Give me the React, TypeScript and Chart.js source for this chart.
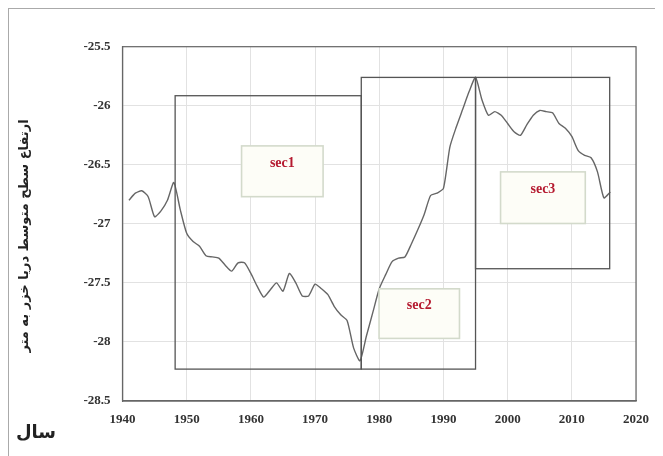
import React, { useEffect, useRef } from "react";
import { Chart, registerables } from "chart.js";

Chart.register(...registerables);

const years: number[] = [];
for (let y = 1941; y <= 2016; y++) years.push(y);

const levels: number[] = [
  -26.80, -26.74, -26.72, -26.77, -26.94, -26.89, -26.80, -26.65, -26.88, -27.08,
  -27.15, -27.19, -27.27, -27.28, -27.29, -27.35, -27.40, -27.33, -27.33, -27.42,
  -27.53, -27.62, -27.56, -27.50, -27.57, -27.42, -27.50, -27.61, -27.61, -27.51,
  -27.55, -27.60, -27.70, -27.77, -27.82, -28.05, -28.16, -27.95, -27.75, -27.55,
  -27.43, -27.32, -27.29, -27.28, -27.17, -27.05, -26.92, -26.76, -26.74, -26.70,
  -26.35, -26.18, -26.03, -25.88, -25.76, -25.95, -26.08, -26.05, -26.08, -26.15,
  -26.22, -26.25, -26.16, -26.08, -26.04, -26.05, -26.06, -26.15, -26.19, -26.26,
  -26.38, -26.42, -26.44, -26.56, -26.78, -26.73,
];

const xTicks: number[] = [1940, 1950, 1960, 1970, 1980, 1990, 2000, 2010, 2020];
const yTicks: number[] = [-25.5, -26, -26.5, -27, -27.5, -28, -28.5];

// section rectangles
const sectionNames: string[] = ["sec1", "sec2", "sec3"];
const sectionYearStart: number[] = [1948.2, 1977.2, 1995.0];
const sectionYearEnd: number[] = [1977.2, 1995.0, 2015.9];
const sectionTop: number[] = [-25.915, -25.76, -25.76];
const sectionBottom: number[] = [-28.23, -28.23, -27.38];

// label boxes
const labelYearStart: number[] = [1958.55, 1979.97, 1998.9];
const labelYearEnd: number[] = [1971.25, 1992.5, 2012.1];
const labelTop: number[] = [-26.34, -27.55, -26.56];
const labelBottom: number[] = [-26.77, -27.97, -26.997];

const yTitle = "ارتفاع سطح متوسط دریا خزر به متر";
const xTitle = "سال";

const overlayPlugin = {
  id: "overlay",
  afterDatasetsDraw(chart: any) {
    const { ctx, chartArea, scales } = chart;
    const xs = scales.x;
    const ys = scales.y;
    ctx.save();
    ctx.strokeStyle = "#666";
    ctx.lineWidth = 1.2;
    ctx.strokeRect(chartArea.left, chartArea.top, chartArea.right - chartArea.left, chartArea.bottom - chartArea.top);
    ctx.strokeStyle = "#555";
    ctx.lineWidth = 1.3;
    for (let i = 0; i < sectionNames.length; i++) {
      const x0 = xs.getPixelForValue(sectionYearStart[i]);
      const x1 = xs.getPixelForValue(sectionYearEnd[i]);
      const y0 = ys.getPixelForValue(sectionTop[i]);
      const y1 = ys.getPixelForValue(sectionBottom[i]);
      ctx.strokeRect(x0, y0, x1 - x0, y1 - y0);
    }
    for (let i = 0; i < sectionNames.length; i++) {
      const x0 = xs.getPixelForValue(labelYearStart[i]);
      const x1 = xs.getPixelForValue(labelYearEnd[i]);
      const y0 = ys.getPixelForValue(labelTop[i]);
      const y1 = ys.getPixelForValue(labelBottom[i]);
      ctx.fillStyle = "#fdfdf7";
      ctx.fillRect(x0, y0, x1 - x0, y1 - y0);
      ctx.strokeStyle = "#d3dacb";
      ctx.lineWidth = 1.6;
      ctx.strokeRect(x0, y0, x1 - x0, y1 - y0);
      ctx.fillStyle = "#b51a30";
      ctx.font = "bold 14px 'Liberation Serif'";
      ctx.textAlign = "center";
      ctx.textBaseline = "middle";
      ctx.fillText(sectionNames[i], (x0 + x1) / 2, y0 + (y1 - y0) * 0.34);
    }
    ctx.fillStyle = "#222";
    ctx.font = "bold 13px 'DejaVu Sans'";
    ctx.textAlign = "center";
    ctx.textBaseline = "middle";
    ctx.save();
    ctx.translate(16, 227);
    ctx.rotate(-Math.PI / 2);
    ctx.direction = "rtl";
    ctx.fillText(yTitle, 0, 0);
    ctx.restore();
    ctx.font = "bold 18px 'DejaVu Sans'";
    ctx.direction = "rtl";
    ctx.fillText(xTitle, 27, 424);
    ctx.restore();
  },
};

export default function App() {
  const canvasRef = useRef<HTMLCanvasElement | null>(null);

  useEffect(() => {
    if (!canvasRef.current) return;
    const tickFont = { family: "'Liberation Serif'", size: 13, weight: "bold" as const };
    const chart = new Chart(canvasRef.current, {
      type: "line",
      data: {
        datasets: [
          {
            data: years.map((y, i) => ({ x: y, y: levels[i] })),
            borderColor: "#666",
            borderWidth: 1.4,
            pointRadius: 0,
            tension: 0.2,
            fill: false,
          },
        ],
      },
      options: {
        animation: false,
        responsive: false,
        maintainAspectRatio: false,
        layout: { padding: { top: 37.7, right: 27, left: 0, bottom: 0 } },
        plugins: { legend: { display: false }, tooltip: { enabled: false } },
        scales: {
          x: {
            type: "linear",
            min: 1940,
            max: 2020,
            afterBuildTicks: (axis: any) => {
              axis.ticks = xTicks.map((v) => ({ value: v }));
            },
            afterFit: (axis: any) => {
              axis.height = 55;
            },
            ticks: {
              font: tickFont,
              color: "#333",
              padding: 11,
              maxRotation: 0,
              autoSkip: false,
              callback: (v: any) => String(v),
            },
            grid: { color: "#e2e2e2", lineWidth: 1, drawTicks: false },
            border: { color: "#666", width: 1.2 },
          },
          y: {
            type: "linear",
            min: -28.5,
            max: -25.5,
            afterBuildTicks: (axis: any) => {
              axis.ticks = yTicks.map((v) => ({ value: v }));
            },
            afterFit: (axis: any) => {
              axis.width = 113.5;
            },
            ticks: {
              font: tickFont,
              color: "#333",
              padding: 12,
              autoSkip: false,
              callback: (v: any) => String(v),
            },
            grid: { color: "#e2e2e2", lineWidth: 1, drawTicks: false },
            border: { color: "#666", width: 1.2 },
          },
        },
      },
      plugins: [overlayPlugin],
    });
    return () => chart.destroy();
  }, []);

  return (
    <div
      style={{
        width: 655,
        height: 448,
        borderLeft: "1px solid #aaa",
        borderTop: "1px solid #aaa",
        background: "#fff",
        position: "relative",
        overflow: "hidden",
      }}
    >
      <canvas ref={canvasRef} width={654} height={447} style={{ display: "block", width: 654, height: 447 }} />
    </div>
  );
}
